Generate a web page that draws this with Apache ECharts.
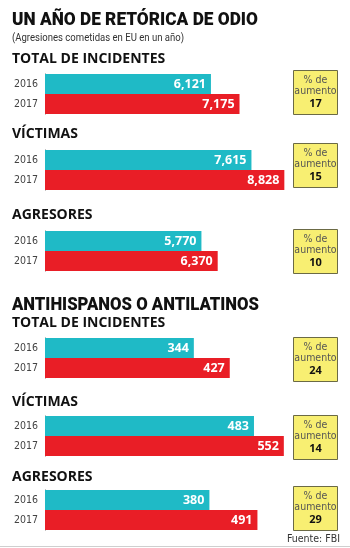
<!DOCTYPE html>
<html>
<head>
<meta charset="utf-8">
<script src="https://cdn.jsdelivr.net/npm/echarts@6/dist/echarts.min.js"></script>
<style>
html,body{margin:0;padding:0;background:#fff;}
#c{width:350px;height:548px;}
</style>
</head>
<body>
<div id="c"></div>
<script>
// ---- data ----
var years = ['2016', '2017'];
var groupTitles = ['TOTAL DE INCIDENTES', 'VÍCTIMAS', 'AGRESORES', 'TOTAL DE INCIDENTES', 'VÍCTIMAS', 'AGRESORES'];
var totalIncidentes = [6121, 7175];
var victimas = [7615, 8828];
var agresores = [5770, 6370];
var hispTotal = [344, 427];
var hispVictimas = [483, 552];
var hispAgresores = [380, 491];
var groupValues = [totalIncidentes, victimas, agresores, hispTotal, hispVictimas, hispAgresores];
var pctAumento = [17, 15, 10, 24, 14, 29];
var mainTitle = 'UN AÑO DE RETÓRICA DE ODIO';
var subTitle = '(Agresiones cometidas en EU en un año)';
var section2 = 'ANTIHISPANOS O ANTILATINOS';
var source = 'Fuente: FBI';

// ---- layout ----
var gridTops = [74, 150, 231, 338, 416, 490];
var headY = [59.5, 134.5, 215, 323, 402, 477];
var boxTops = [70, 143, 229, 337, 415, 486];
var axisMax = [9000, 9000, 9000, 600, 600, 600];
var gridWidth = [244, 244, 244, 259.6, 259.6, 259.6];
var colors = ['#1fbac6', '#e91e26'];

var condensed = '"Liberation Sans Narrow","DejaVu Sans Condensed",sans-serif';
var wide = '"Open Sans",sans-serif';

var mctx = document.createElement('canvas').getContext('2d');
function fitScale(text, font, target) {
  mctx.font = font;
  return target / mctx.measureText(text).width;
}

var grids = [], xAxes = [], yAxes = [], series = [], graphics = [];
groupValues.forEach(function (vals, i) {
  grids.push({left: 45, top: gridTops[i], width: gridWidth[i], height: 40});
  xAxes.push({type: 'value', gridIndex: i, min: 0, max: axisMax[i], show: false});
  yAxes.push({
    type: 'category', gridIndex: i, data: years, inverse: true,
    axisLine: {show: true, lineStyle: {color: '#666', width: 1}},
    axisTick: {show: false},
    axisLabel: {color: '#444', fontSize: 10.5, fontFamily: condensed, margin: 7}
  });
  series.push({
    type: 'bar', xAxisIndex: i, yAxisIndex: i, barCategoryGap: 0, barWidth: '100%',
    silent: true,
    data: vals.map(function (v, j) { return {value: v, itemStyle: {color: colors[j]}}; }),
    label: {
      show: true, position: 'insideRight', distance: 5,
      color: '#fff', fontWeight: 'bold', fontSize: 12.5, fontFamily: wide,
      formatter: function (p) { return p.value.toLocaleString('en-US'); }
    }
  });
  graphics.push({
    type: 'text', x: 12, y: headY[i],
    style: {text: groupTitles[i], font: 'bold 14px ' + wide, fill: '#111', verticalAlign: 'middle'}
  });
  var bt = boxTops[i];
  graphics.push({type: 'rect', shape: {x: 293.5, y: bt + 0.5, width: 44, height: 44},
    style: {fill: '#f8ef72', stroke: '#6b6a45', lineWidth: 1}});
  graphics.push({type: 'text', x: 315.5, y: bt + 10, style: {text: '% de', font: '10.5px ' + condensed, fill: '#555', align: 'center', verticalAlign: 'middle'}});
  graphics.push({type: 'text', x: 315.5, y: bt + 21.5, style: {text: 'aumento', font: '10.5px ' + condensed, fill: '#555', align: 'center', verticalAlign: 'middle'}});
  graphics.push({type: 'text', x: 315.5, y: bt + 34, style: {text: String(pctAumento[i]), font: 'bold 11px ' + wide, fill: '#111', align: 'center', verticalAlign: 'middle'}});
});

var titleFont = '900 19px Roboto, sans-serif';
var subFont = '11.5px Roboto, sans-serif';
graphics.push({type: 'text', x: 12, y: 20, scaleX: fitScale(mainTitle, titleFont, 246),
  style: {text: mainTitle, font: titleFont, fill: '#111', verticalAlign: 'middle'}});
graphics.push({type: 'text', x: 12, y: 38, scaleX: fitScale(subTitle, subFont, 172),
  style: {text: subTitle, font: subFont, fill: '#333', verticalAlign: 'middle'}});
graphics.push({type: 'text', x: 12, y: 305.5, scaleX: fitScale(section2, titleFont, 247),
  style: {text: section2, font: titleFont, fill: '#111', verticalAlign: 'middle'}});
graphics.push({type: 'text', x: 340, y: 539.5, style: {text: source, font: '10.5px ' + condensed, fill: '#333', align: 'right', verticalAlign: 'middle'}});
graphics.push({type: 'line', shape: {x1: 0, y1: 546.5, x2: 350, y2: 546.5}, style: {stroke: '#cfcfcf', lineWidth: 1}});

var chart = echarts.init(document.getElementById('c'), null, {renderer: 'canvas'});
chart.setOption({
  animation: false,
  backgroundColor: '#fff',
  grid: grids, xAxis: xAxes, yAxis: yAxes, series: series,
  graphic: graphics
});
</script>
</body>
</html>
